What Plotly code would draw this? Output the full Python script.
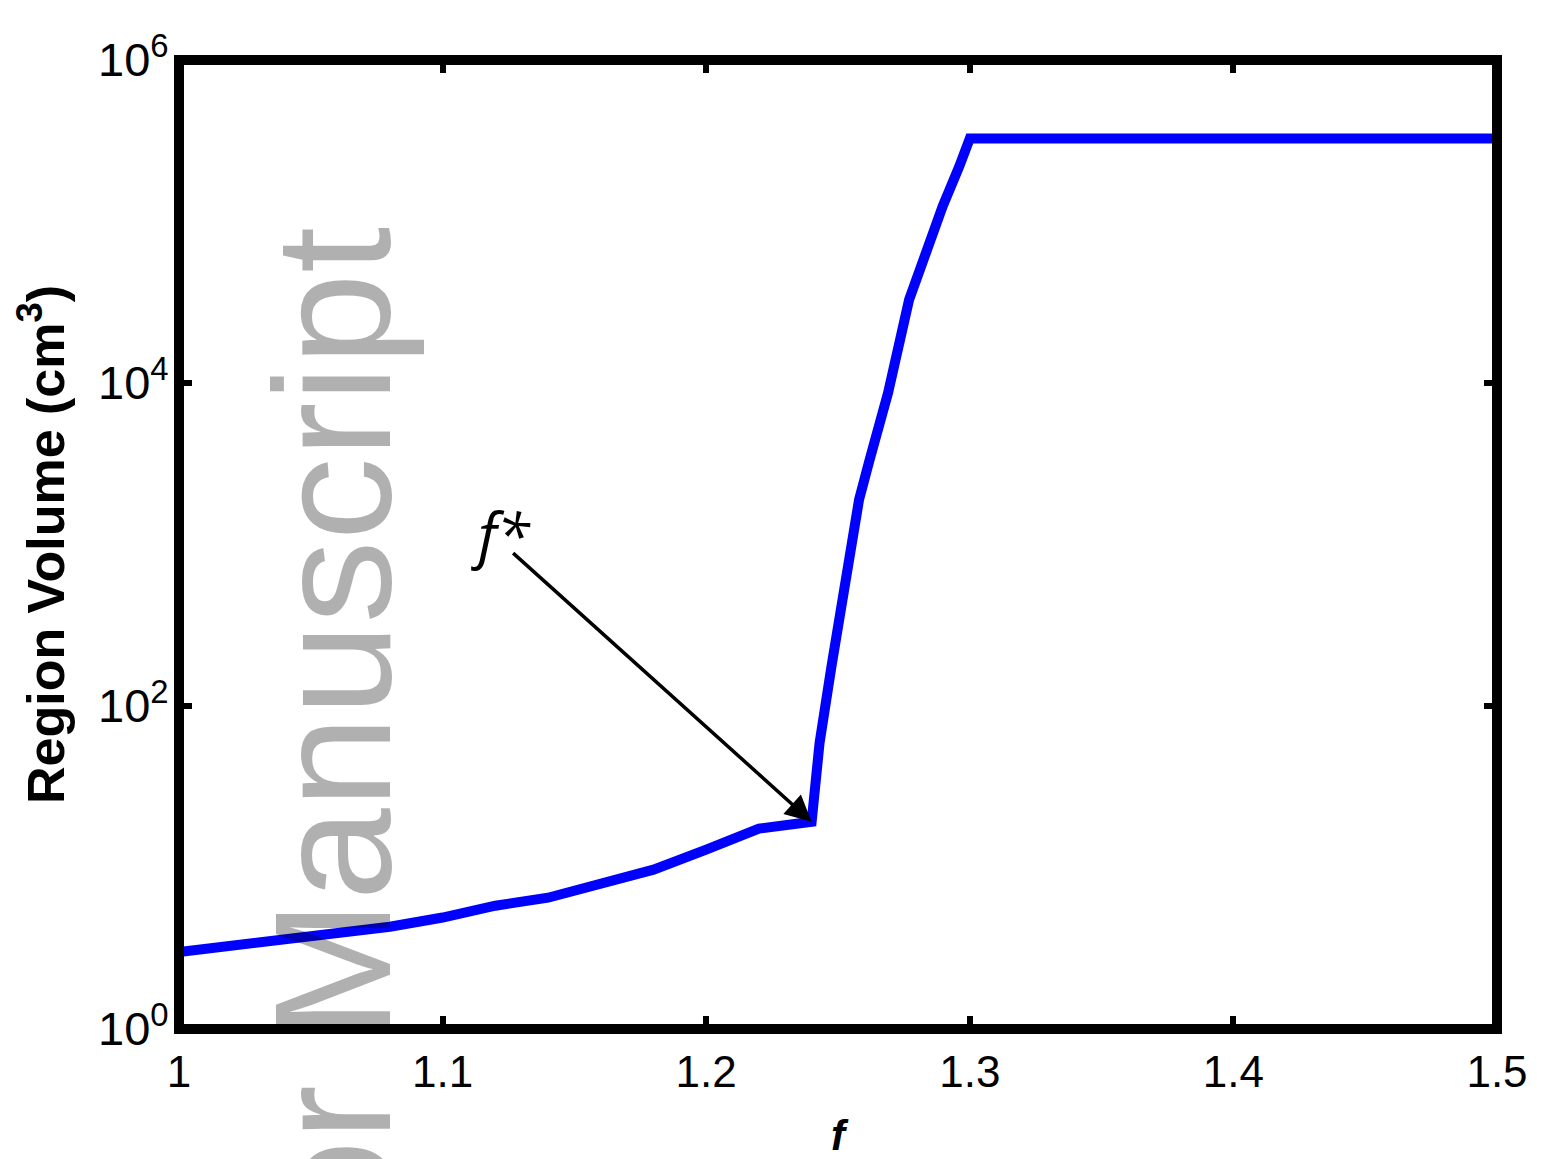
import numpy as np
import plotly.graph_objects as go

# region volume vs f
f_vals = [1.00, 1.08, 1.10, 1.12, 1.14, 1.16, 1.18, 1.20, 1.22, 1.24,
          1.243, 1.2475, 1.2513, 1.2544, 1.258, 1.262, 1.269, 1.277,
          1.2836, 1.2897, 1.296, 1.30, 1.40, 1.50]
volume = [3.0, 4.3, 4.9, 5.8, 6.5, 7.9, 9.7, 12.9, 17.4, 19.2,
          59, 175, 412, 840, 1900, 3350, 8700, 32900,
          67000, 124000, 219000, 327000, 327000, 327000]

x_ticks = [1.0, 1.1, 1.2, 1.3, 1.4, 1.5]
x_ticktext = ["1", "1.1", "1.2", "1.3", "1.4", "1.5"]
y_ticks = [1, 1e2, 1e4, 1e6]
y_ticktext = ["10<sup>0</sup>", "10<sup>2</sup>", "10<sup>4</sup>", "10<sup>6</sup>"]

f_star = 1.24
f_star_vol = 19.2

font = "Liberation Sans, Arial, sans-serif"

# the page body adds an 8px offset, so the figure is laid out 8px smaller
W, H = 1548, 1151
ML, MR, MT, MB = 171, 59, 52, 130

fig = go.Figure()
fig.add_trace(go.Scatter(
    x=f_vals, y=volume, mode="lines",
    line=dict(color="#0000ff", width=10), showlegend=False,
))

axis_common = dict(
    showline=True, linewidth=1, linecolor="black", mirror="ticks",
    ticks="inside", ticklen=13, tickwidth=6, tickcolor="black",
    showgrid=False, zeroline=False, automargin=False,
)

fig.update_xaxes(
    range=[1, 1.5], tickvals=x_ticks, ticktext=x_ticktext,
    tickfont=dict(family=font, size=44, color="black"), ticklabelstandoff=4,
    title=dict(text="<b><i>f</i></b>", font=dict(family=font, size=42, color="black"), standoff=26),
    **axis_common,
)
fig.update_yaxes(
    type="log", range=[0, 6], tickvals=y_ticks, ticktext=y_ticktext,
    tickfont=dict(family=font, size=47, color="black"),
    title=dict(text="<b>Region Volume (cm<sup>3</sup>)</b>",
               font=dict(family=font, size=52, color="black"), standoff=16),
    **axis_common,
)

# thick box centred on the plot edges
fig.add_shape(type="rect", xref="paper", yref="paper", x0=0, x1=1, y0=0, y1=1,
              line=dict(color="black", width=10), layer="above")

# arrow to f*
fig.add_annotation(
    x=f_star, y=np.log10(f_star_vol), xref="x", yref="y",
    ax=-300, ay=-270, axref="pixel", ayref="pixel",
    text="", showarrow=True, arrowhead=2, arrowsize=1.5, arrowwidth=3.5,
    arrowcolor="black",
)
fig.add_annotation(
    x=1.122, y=np.log10(f_star_vol) + 1.78, xref="x", yref="y",
    text="<i>f*</i>", showarrow=False,
    font=dict(family="Open Sans, sans-serif", size=60, color="black"),
)

# watermark, placed in pixel space of the page
pw, ph = W - ML - MR, H - MT - MB
fig.add_annotation(
    x=(332 - 8 - ML) / pw, y=1 - (901 - 8 - MT) / ph, xref="paper", yref="paper",
    xanchor="center", yanchor="middle",
    text="Author Manuscript", showarrow=False, textangle=-90,
    font=dict(family=font, size=166, color="rgba(0,0,0,0.31)"),
)

fig.update_layout(
    width=W, height=H,
    margin=dict(l=ML, r=MR, t=MT, b=MB),
    paper_bgcolor="white", plot_bgcolor="white",
)

fig.write_html("out.html")
